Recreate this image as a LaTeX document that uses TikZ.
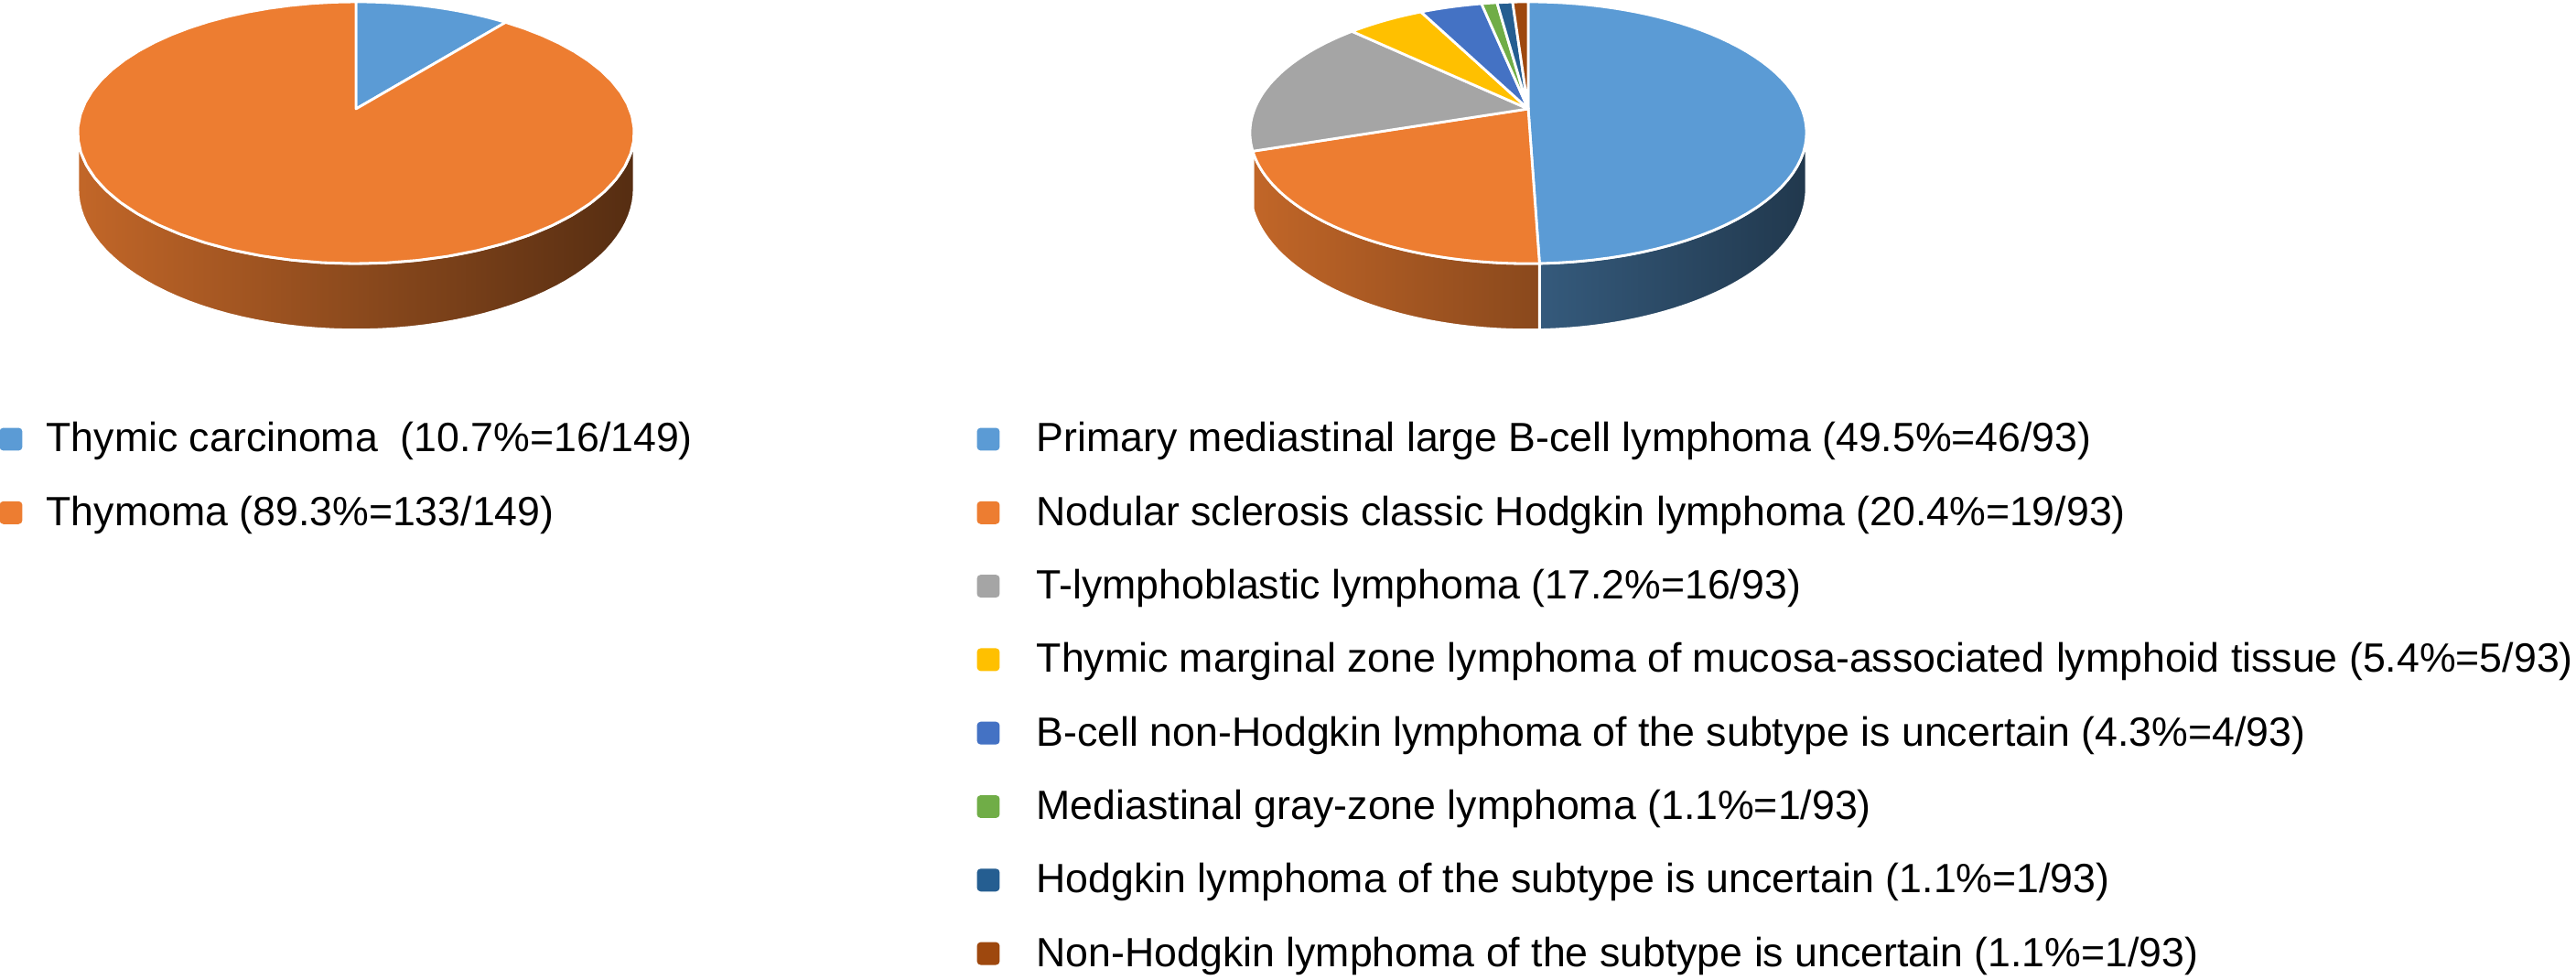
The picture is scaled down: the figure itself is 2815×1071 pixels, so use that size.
\documentclass[tikz,border=0pt]{standalone}
\usepackage{fontspec}
\setmainfont{Liberation Sans}
\usetikzlibrary{positioning}

\definecolor{pieblue}{HTML}{5B9BD5}
\definecolor{pieorange}{HTML}{ED7D31}
\definecolor{piegray}{HTML}{A5A5A5}
\definecolor{pieyellow}{HTML}{FFC000}
\definecolor{piedarkblue}{HTML}{4472C4}
\definecolor{piegreen}{HTML}{70AD47}
\definecolor{pienavy}{HTML}{255E91}
\definecolor{piebrown}{HTML}{9E480E}

\newcommand\piea{299}
\newcommand\pieb{138.3}
\newcommand\piek{.182}
\newcommand\piet{59.4}
\newcommand\piecy{119}
\newcommand\legendstyle{\fontsize{12.7}{15}\selectfont}
\tikzset{
  pieline/.style={draw=white, line width=.8pt, line join=round},
  pieplot/.style={samples=60, variable=\t},
  legendmark/.style={minimum size=7.1pt, inner sep=0, rounded corners=1.2pt},
  legendtext/.style={anchor=base west, inner sep=0, font=\legendstyle},
  declare function={
    piex(\t)=\piecx+\piea*sin(\t)/(1+\piek*cos(\t));
    piey(\t,\z)=\piecy+(\z*\piet-\pieb*cos(\t))/(1+\piek*cos(\t));
  },
}
\newcommand\startpie[2]{
  \def\piecx{#1}\def\pietotal{#2}
  \pgfmathparse{0}\let\pieangle\pgfmathresult
}
\newcommand\pieslice[2]{
  \pgfmathparse{\pieangle + 360 / \pietotal * #2}\let\pieend\pgfmathresult
  \pgfmathparse{max(\pieangle, 100.5)}\let\sidefrom\pgfmathresult
  \pgfmathparse{min(\pieend, 259.5)}\let\sideto\pgfmathresult
  \pgfmathtruncatemacro\hasside{\sideto > \sidefrom}
  \ifnum\hasside=1
    \begin{scope}
      \clip plot[pieplot, domain=\sidefrom:\sideto] ({piex(\t)}, {piey(\t, 0)})
        -- plot[pieplot, domain=\sideto:\sidefrom] ({piex(\t)}, {piey(\t, 1)}) -- cycle;
      \shade[left color=#1!82!black, middle color=#1!55!black, right color=#1!36!black]
        ({\piecx - 306}, 0) rectangle ({\piecx + 306}, 400);
    \end{scope}
    \draw[pieline] plot[pieplot, domain=\sidefrom:\sideto] ({piex(\t)}, {piey(\t, 0)})
      -- plot[pieplot, domain=\sideto:\sidefrom] ({piex(\t)}, {piey(\t, 1)}) -- cycle;
  \fi
  \draw[pieline, fill=#1] (\piecx, \piecy)
    -- plot[pieplot, domain=\pieangle:\pieend] ({piex(\t)}, {piey(\t, 0)}) -- cycle;
  \let\pieangle\pieend
}
\newcommand\startlegend[2]{
  \def\legendmarkx{#1}\def\legendtextx{#2}
  \pgfmathparse{480}\let\legendy\pgfmathresult
}
\newcommand\pielegend[3]{
  \node[legendmark, fill=#2] (#1mark) at (\legendmarkx, \legendy) {};
  \node[legendtext] (#1) at (\legendtextx, {\legendy + 14}) {#3};
  \pgfmathparse{\legendy + 80.3}\let\legendy\pgfmathresult
}

\begin{document}
\begin{tikzpicture}[x=.01cm, y=-.01cm]
  \useasboundingbox (0, 0) rectangle (2815, 1071);
  \startpie{389}{149} % thymic epithelial
  \pieslice{pieblue}{16}
  \pieslice{pieorange}{133}
  \startpie{1670}{93} % lymphoma
  \pieslice{pieblue}{46}
  \pieslice{pieorange}{19}
  \pieslice{piegray}{16}
  \pieslice{pieyellow}{5}
  \pieslice{piedarkblue}{4}
  \pieslice{piegreen}{1}
  \pieslice{pienavy}{1}
  \pieslice{piebrown}{1}
  \startlegend{12}{50}
  \pielegend{thymiccarcinoma}{pieblue}{Thymic carcinoma\ \ (10.7\%=16/149)}
  \pielegend{thymoma}{pieorange}{Thymoma (89.3\%=133/149)}
  \startlegend{1080}{1132}
  \pielegend{pmbl}{pieblue}{Primary mediastinal large B-cell lymphoma (49.5\%=46/93)}
  \pielegend{nscHL}{pieorange}{Nodular sclerosis classic Hodgkin lymphoma (20.4\%=19/93)}
  \pielegend{tlbl}{piegray}{T-lymphoblastic lymphoma (17.2\%=16/93)}
  \pielegend{malt}{pieyellow}{Thymic marginal zone lymphoma of mucosa-associated lymphoid tissue (5.4\%=5/93)}
  \pielegend{bnhl}{piedarkblue}{B-cell non-Hodgkin lymphoma of the subtype is uncertain (4.3\%=4/93)}
  \pielegend{grayzone}{piegreen}{Mediastinal gray-zone lymphoma (1.1\%=1/93)}
  \pielegend{hlunc}{pienavy}{Hodgkin lymphoma of the subtype is uncertain (1.1\%=1/93)}
  \pielegend{nhlunc}{piebrown}{Non-Hodgkin lymphoma of the subtype is uncertain (1.1\%=1/93)}
\end{tikzpicture}
\end{document}
